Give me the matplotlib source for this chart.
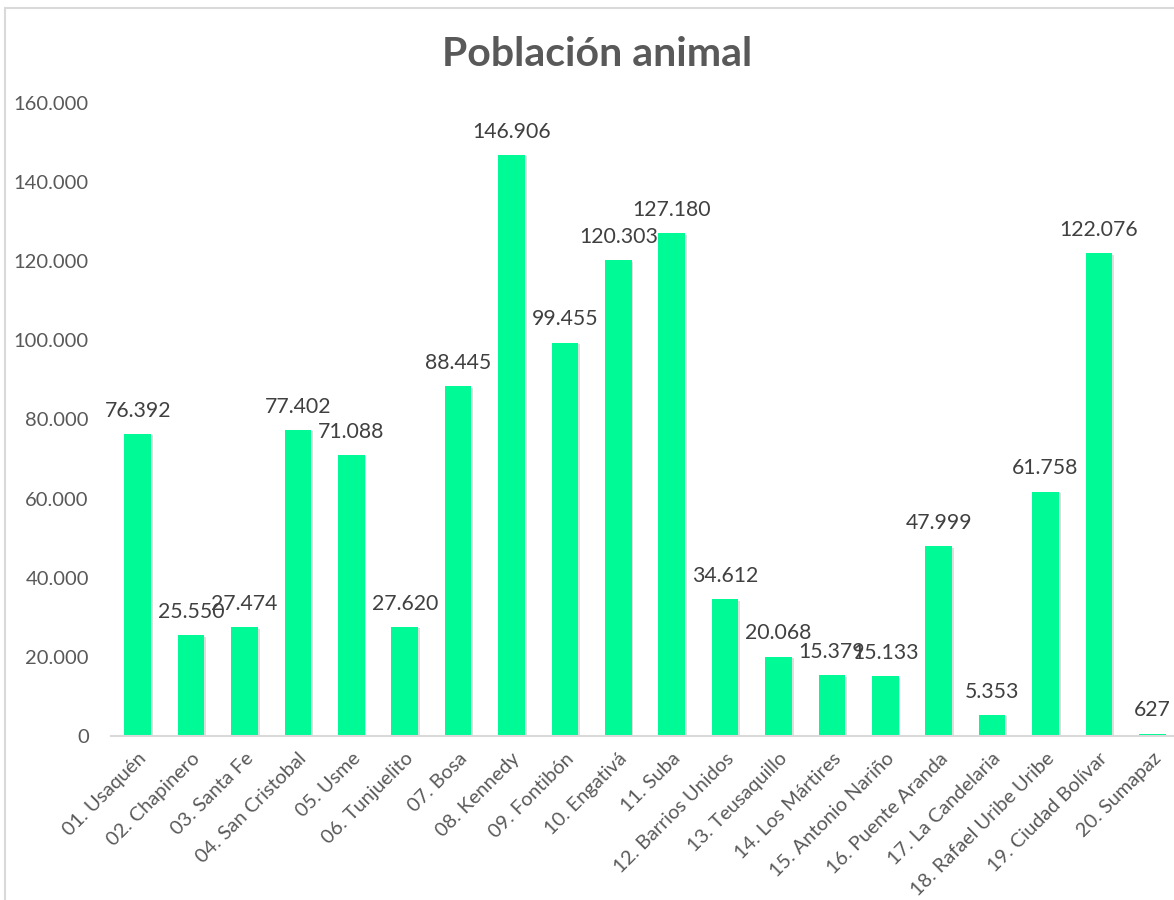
import matplotlib
matplotlib.use("Agg")
import matplotlib.pyplot as plt
import matplotlib.patheffects as pe
from matplotlib.patches import Rectangle
from matplotlib.ticker import FuncFormatter

# datos
localidades = [
    "01. Usaquén", "02. Chapinero", "03. Santa Fe", "04. San Cristobal",
    "05. Usme", "06. Tunjuelito", "07. Bosa", "08. Kennedy",
    "09. Fontibón", "10. Engativá", "11. Suba", "12. Barrios Unidos",
    "13. Teusaquillo", "14. Los Mártires", "15. Antonio Nariño",
    "16. Puente Aranda", "17. La Candelaria", "18. Rafael Uribe Uribe",
    "19. Ciudad Bolívar", "20. Sumapaz",
]
poblacion = [76392, 25550, 27474, 77402, 71088, 27620, 88445, 146906,
             99455, 120303, 127180, 34612, 20068, 15379, 15133, 47999,
             5353, 61758, 122076, 627]
y_ticks = [0, 20000, 40000, 60000, 80000, 100000, 120000, 140000, 160000]

GRIS = "#595959"
VERDE = "#00FA96"

plt.rcParams["font.family"] = ["Lato", "DejaVu Sans"]


def miles(v, pos=None):
    return f"{int(v):,}".replace(",", ".")


fig = plt.figure(figsize=(11.74, 9), dpi=100)
fig.patches.append(Rectangle((5 / 1174, -0.05), 1.2, 1 - 8 / 900 + 0.05,
                             transform=fig.transFigure, fill=False,
                             edgecolor="#D9D9D9", linewidth=1.5))

ax = fig.add_axes([111 / 1174, 1 - 736 / 900, (1179 - 111) / 1174, (736 - 103) / 900])
x = list(range(len(localidades)))
bars = ax.bar(x, poblacion, width=0.5, color=VERDE, zorder=2)
for b in bars:
    b.set_path_effects([pe.SimplePatchShadow(offset=(1.2, -1.2), shadow_rgbFace="#909090", alpha=0.3),
                        pe.Normal()])

for xi, v in zip(x, poblacion):
    ax.annotate(miles(v), (xi, v), xytext=(0, 9.5), textcoords="offset points",
                ha="center", va="bottom", fontsize=15.3, color="#404040")

ax.set_xlim(-0.5, len(localidades) - 0.5)
ax.set_ylim(0, 160000)
ax.set_yticks(y_ticks)
ax.yaxis.set_major_formatter(FuncFormatter(miles))
ax.tick_params(axis="y", length=0, pad=16, labelsize=14.5, labelcolor=GRIS)
ax.set_xticks(x)
ax.set_xticklabels(localidades, rotation=45, ha="right", va="top",
                   rotation_mode="anchor", fontsize=14.3, color=GRIS)
ax.tick_params(axis="x", length=0, pad=10)

for s in ["top", "right", "left"]:
    ax.spines[s].set_visible(False)
ax.spines["bottom"].set_color("#D9D9D9")
ax.spines["bottom"].set_linewidth(1.5)
ax.spines["bottom"].set_zorder(3)

fig.text(597 / 1174, 1 - 55 / 900, "Población animal", ha="center", va="center",
         fontsize=29.5, fontweight="bold", color=GRIS)

fig.savefig("out.png", dpi=100)
